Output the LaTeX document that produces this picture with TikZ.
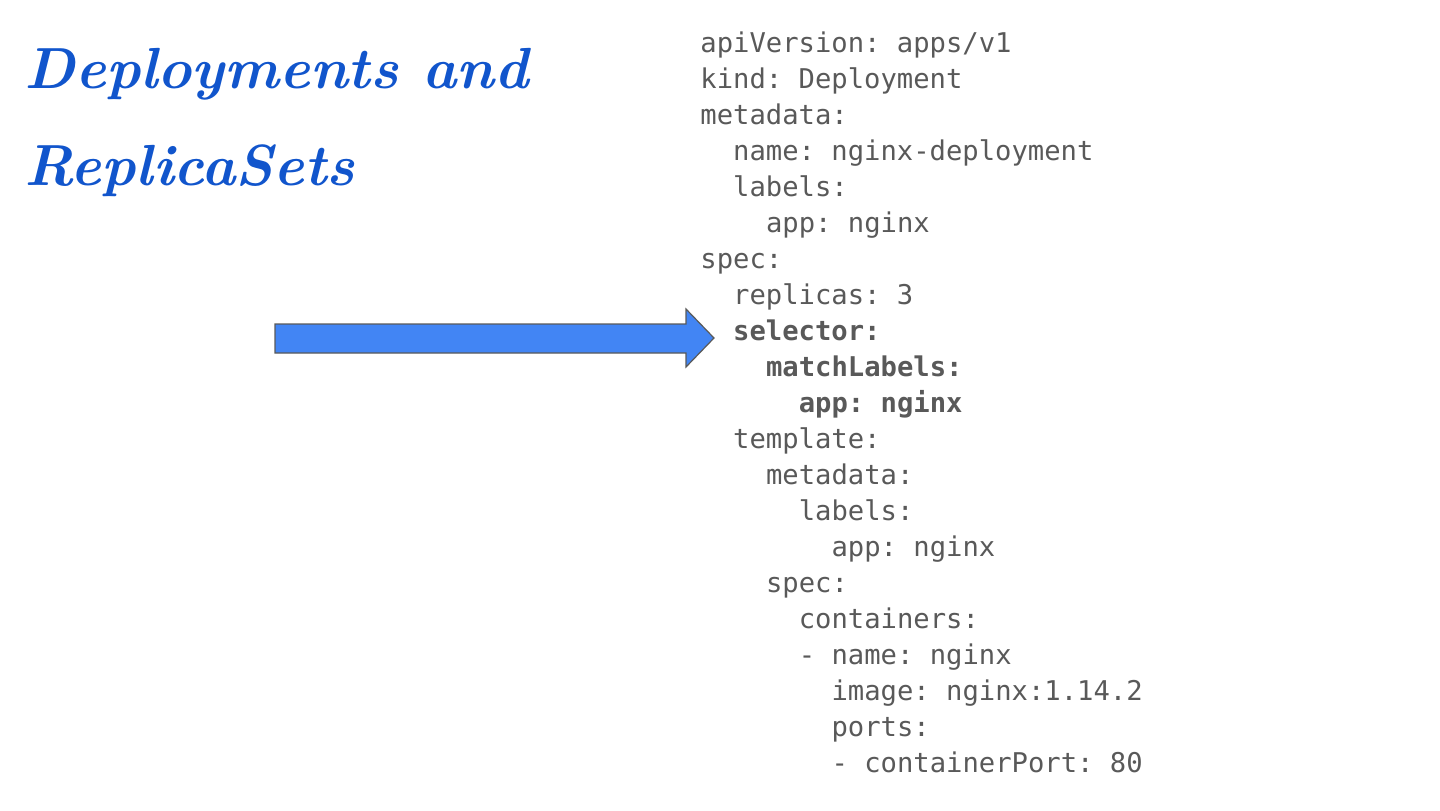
\documentclass[tikz,border=0pt]{standalone}
\usepackage{fontspec}
\setmonofont{DejaVu Sans Mono}
\usepackage{tikz}
\definecolor{titleblue}{HTML}{1155CC}
\definecolor{arrowblue}{HTML}{4285F4}
\definecolor{codegray}{HTML}{595959}
\tikzset{
  codeline/.style={anchor=base west,inner sep=0pt,text=codegray,
    font=\ttfamily\fontsize{13.6}{17}\selectfont},
  titleline/.style={anchor=base west,inner sep=0pt,text=titleblue,
    font=\fontsize{29}{35}\selectfont\bfseries\itshape}
}
\begin{document}
\begin{tikzpicture}[x=0.5pt,y=-0.5pt]
  \useasboundingbox (0,0) rectangle (1440,810);
  %Title
  \node[titleline] (title1) at (24,88) {Deployments and};
  \node[titleline] (title2) at (24,185) {ReplicaSets};
  %YAML
  \foreach \ind/\txt [count=\n] in {
      0/{apiVersion: apps/v1},
      0/{kind: Deployment},
      0/{metadata:},
      2/{name: nginx-deployment},
      2/{labels:},
      4/{app: nginx},
      0/{spec:},
      2/{replicas: 3},
      2/{\bfseries selector:},
      4/{\bfseries matchLabels:},
      6/{\bfseries app: nginx},
      2/{template:},
      4/{metadata:},
      6/{labels:},
      8/{app: nginx},
      4/{spec:},
      6/{containers:},
      6/{- name: nginx},
      8/{image: nginx:1.14.2},
      8/{ports:},
      8/{- containerPort: 80}}
    \node[codeline] (l\n) at ({700+16.4*\ind},{52+36*(\n-1)}) {\txt};
  %Arrow
  \coordinate (tip) at (714,338);
  \draw[codegray,line width=0.6pt,fill=arrowblue,line join=miter]
    (275,324) -- (686,324) -- (686,309) -- (tip) -- (686,367) -- (686,353)
    -- (275,353) -- cycle;
\end{tikzpicture}
\end{document}
